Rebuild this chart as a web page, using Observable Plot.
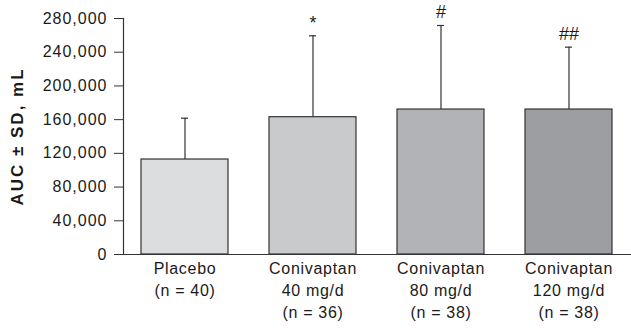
<!DOCTYPE html>
<html>
<head>
<meta charset="utf-8">
<script src="https://cdn.jsdelivr.net/npm/d3@7"></script>
<script src="https://cdn.jsdelivr.net/npm/@observablehq/plot@0.6"></script>
<style>
  html, body { margin: 0; padding: 0; background: #fff; }
  #chart g[aria-label="y-axis tick label"] text { font-size: 16px; letter-spacing: 1px; }
  #chart g[aria-label="x-axis tick label"] text { font-size: 16px; letter-spacing: 0.7px; }
  #chart g[aria-label="y-axis label"] text { font-weight: bold; font-size: 17px; letter-spacing: 2px; }
</style>
</head>
<body>
<div id="chart"></div>
<script>
const groups = ["Placebo\n(n = 40)", "Conivaptan\n40 mg/d\n(n = 36)", "Conivaptan\n80 mg/d\n(n = 38)", "Conivaptan\n120 mg/d\n(n = 38)"];
const auc = [112700, 162900, 172000, 172000];
const sd = [49000, 96600, 99700, 74000];
const marks = ["", "*", "#", "##"];
const fills = ["#dcdddf", "#c9cacc", "#b2b3b6", "#9d9ea1"];
const yTicks = [0, 40000, 80000, 120000, 160000, 200000, 240000, 280000];

const data = groups.map((g, i) => ({group: g, auc: auc[i], top: auc[i] + sd[i], mark: marks[i], fill: fills[i]}));

const chart = Plot.plot({
  width: 631,
  height: 328,
  marginLeft: 123,
  marginRight: 0,
  marginTop: 18,
  marginBottom: 74,
  style: {fontFamily: "'Liberation Sans', Arial, sans-serif", fontSize: "16px", color: "#1a1a1a"},
  x: {domain: groups, paddingInner: 0.318, paddingOuter: 0.132, label: null},
  y: {domain: [0, 280000], label: null},
  marks: [
    Plot.ruleX(data, {x: "group", y1: "auc", y2: "top", stroke: "#333", strokeWidth: 1.2}),
    Plot.tickY(data, {x: "group", y: "top", stroke: "#333", strokeWidth: 1.2, insetLeft: 40, insetRight: 40}),
    Plot.barY(data, {x: "group", y: "auc", fill: "fill", stroke: "#333", strokeWidth: 1.2}),
    Plot.text(data, {x: "group", y: "top", text: "mark", lineAnchor: "bottom", dy: -7, fontSize: 18, fill: "#1a1a1a"}),
    Plot.frame({anchor: "left", stroke: "#333", strokeWidth: 1.2}),
    Plot.frame({anchor: "bottom", stroke: "#333", strokeWidth: 1.2}),
    Plot.axisY({ticks: yTicks, tickFormat: d3.format(","), tickSize: 9, tickPadding: 7, fontSize: 16, stroke: "#333", label: "AUC ± SD, mL", labelAnchor: "center", labelArrow: "none", labelOffset: 113}),
    Plot.axisX({tickSize: 0, tickPadding: 4, fontSize: 16, lineHeight: 1.375})
  ]
});
document.getElementById("chart").append(chart);
</script>
</body>
</html>
